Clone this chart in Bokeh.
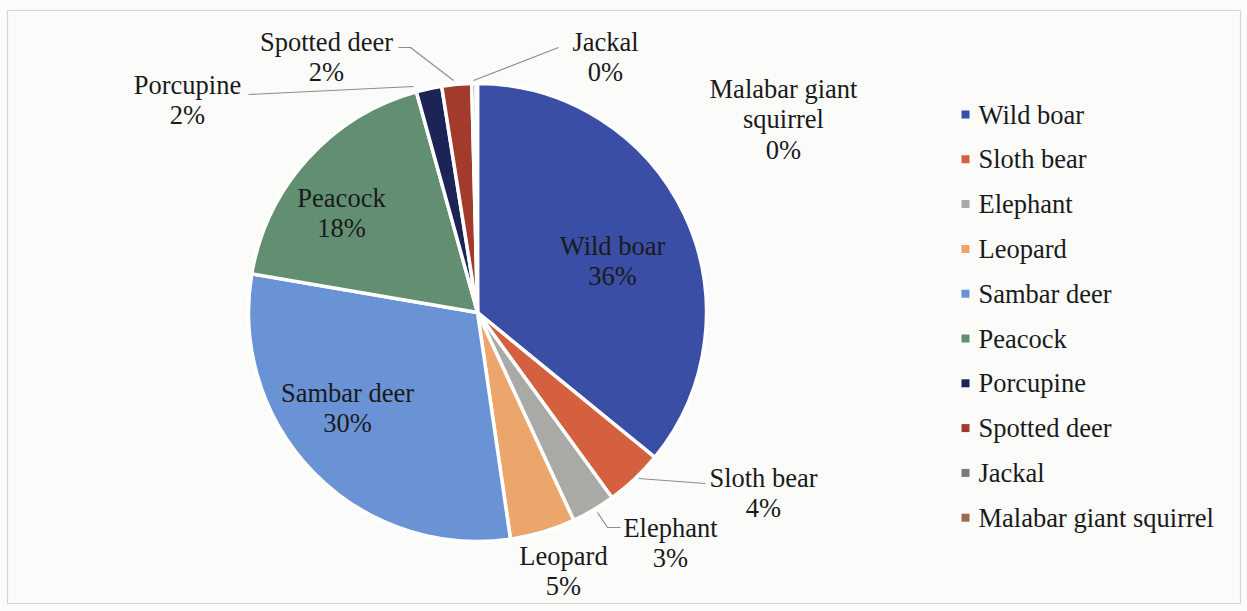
import numpy as np
from bokeh.plotting import figure
from bokeh.models import Range1d, ColumnDataSource
from bokeh.core.properties import value
from bokeh.embed import file_html
from bokeh.resources import INLINE

# ---- data ----
categories = ["Wild boar", "Sloth bear", "Elephant", "Leopard", "Sambar deer",
              "Peacock", "Porcupine", "Spotted deer", "Jackal", "Malabar giant squirrel"]
shares = [35.9, 4.1, 3.1, 4.6, 30.0, 18.0, 1.8, 2.1, 0.3, 0.1]

# ---- styles ----
colors = ["#3b4ea6", "#d4603f", "#a9a9a6", "#eca66c", "#6a93d6",
          "#628e72", "#1b2455", "#a33b2c", "#7a7a7a", "#9c6a4e"]

W, H = 1247, 611
FONT = value("Liberation Serif")
FS = "26.5px"
TXT = "#1a1a1a"
BG = "#fbfbfa"

def Y(y):
    return H - y

p = figure(width=W, height=H, x_range=Range1d(0, W), y_range=Range1d(0, H),
           output_backend="svg", toolbar_location=None, min_border=0,
           x_axis_location=None, y_axis_location=None)
p.grid.visible = False
p.outline_line_color = None
p.background_fill_color = BG
p.border_fill_color = BG

# frame
p.quad(left=[7], right=[1240], bottom=[Y(603)], top=[Y(10)],
       fill_color=None, line_color="#d4d4d4", line_width=1.2)

# ---- pie ----
CX, CY, R = 477, 312, 229
frac = np.array(shares) / sum(shares)
cum = np.concatenate([[0.0], np.cumsum(frac)])
start = np.pi / 2 - 2 * np.pi * cum[:-1]
end = np.pi / 2 - 2 * np.pi * cum[1:]
src = ColumnDataSource(dict(start=start, end=end, color=colors))
p.wedge(x=CX, y=Y(CY), radius=R, start_angle="start", end_angle="end",
        direction="clock", fill_color="color", line_color="white",
        line_width=3.5, source=src)

# ---- data labels (layout positions, screen coords: centre x, first line y) ----
label_pos = [(612, 245), (763, 477), (670, 527), (563, 555), (347, 392),
             (341, 197), (187, 84), (326, 41), (605, 41), (783, 88)]
label_names = [c if c != "Malabar giant squirrel" else "Malabar giant\nsquirrel"
               for c in categories]
LS = 30.5
xs, ys, tx = [], [], []
for (lx, ly), nm, f in zip(label_pos, label_names, frac):
    lines = nm.split("\n") + ["%d%%" % int(round(f * 100))]
    for i, t in enumerate(lines):
        xs.append(lx)
        ys.append(Y(ly + i * LS))
        tx.append(t)
p.text(x=xs, y=ys, text=tx, text_align="center", text_baseline="middle",
       text_font=FONT, text_font_size=FS, text_color=TXT)

# leader lines (layout)
lead_x = [[248, 413], [398, 410, 453], [473, 558], [638, 705], [597, 607, 620]]
lead_y = [[94, 86], [47, 47, 80], [80, 47], [478, 483], [512, 527, 527]]
p.multi_line(xs=lead_x, ys=[[Y(v) for v in yy] for yy in lead_y],
             line_color="#8c8c8c", line_width=1.2)

# ---- legend ----
LX, LY0, LDY = 965, 114, 44.8
ly = [Y(LY0 + i * LDY) for i in range(len(categories))]
p.scatter(x=[LX] * len(categories), y=ly, marker="square", size=8,
          fill_color=colors, line_color=None)
p.text(x=[LX + 13] * len(categories), y=ly, text=categories,
       text_baseline="middle", text_font=FONT, text_font_size=FS, text_color=TXT)

open("out.html", "w").write(file_html(p, INLINE))
